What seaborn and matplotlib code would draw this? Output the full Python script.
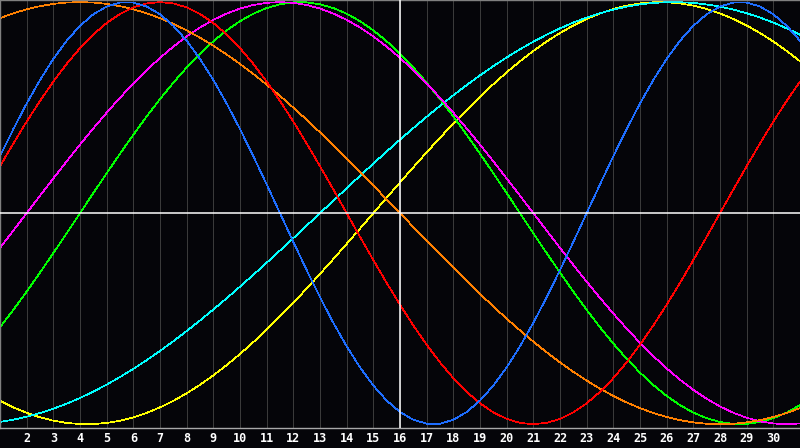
import matplotlib
matplotlib.use("Agg")
import matplotlib.pyplot as plt
import seaborn as sns
import pandas as pd

days = [1.0, 1.5, 2.0, 2.5, 3.0, 3.5, 4.0, 4.5, 5.0, 5.5, 6.0, 6.5, 7.0, 7.5, 8.0, 8.5,
        9.0, 9.5, 10.0, 10.5, 11.0, 11.5, 12.0, 12.5, 13.0, 13.5, 14.0, 14.5, 15.0, 15.5,
        16.0, 16.5, 17.0, 17.5, 18.0, 18.5, 19.0, 19.5, 20.0, 20.5, 21.0, 21.5, 22.0, 22.5,
        23.0, 23.5, 24.0, 24.5, 25.0, 25.5, 26.0, 26.5, 27.0, 27.5, 28.0, 28.5, 29.0, 29.5,
        30.0, 30.5, 31.0]
tick_days = list(range(2, 31))
tick_labels = [str(d) for d in tick_days]
today = 16

physical = [0.2698, 0.3984, 0.5196, 0.6311, 0.7308, 0.8170, 0.8879, 0.9423, 0.9791, 0.9977,
            0.9977, 0.9791, 0.9423, 0.8879, 0.8170, 0.7308, 0.6311, 0.5196, 0.3984, 0.2698, 0.1362,
            0.0,
            -0.1362, -0.2698, -0.3984, -0.5196, -0.6311, -0.7308, -0.8170, -0.8879, -0.9423, -0.9791, -0.9977,
            -0.9977, -0.9791, -0.9423, -0.8879, -0.8170, -0.7308, -0.6311, -0.5196, -0.3984, -0.2698, -0.1362,
            0.0,
            0.1362, 0.2698, 0.3984, 0.5196, 0.6311, 0.7308, 0.8170, 0.8879, 0.9423, 0.9791, 0.9977,
            0.9977, 0.9791, 0.9423, 0.8879, 0.8170]
emotional = [0.2225, 0.3303, 0.4339, 0.5320, 0.6235, 0.7071, 0.7818, 0.8467, 0.9010, 0.9439, 0.9749, 0.9937, 1.0,
             0.9937, 0.9749, 0.9439, 0.9010, 0.8467, 0.7818, 0.7071, 0.6235, 0.5320, 0.4339, 0.3303, 0.2225, 0.1120,
             0.0,
             -0.1120, -0.2225, -0.3303, -0.4339, -0.5320, -0.6235, -0.7071, -0.7818, -0.8467, -0.9010, -0.9439,
             -0.9749, -0.9937, -1.0, -0.9937, -0.9749, -0.9439, -0.9010, -0.8467, -0.7818, -0.7071, -0.6235,
             -0.5320, -0.4339, -0.3303, -0.2225, -0.1120,
             0.0,
             0.1120, 0.2225, 0.3303, 0.4339, 0.5320, 0.6235]
intellectual = [-0.5406, -0.4582, -0.3717, -0.2817, -0.1893, -0.0951,
                0.0,
                0.0951, 0.1893, 0.2817, 0.3717, 0.4582, 0.5406, 0.6182, 0.6901, 0.7557, 0.8146, 0.8660,
                0.9096, 0.9450, 0.9718, 0.9898, 0.9989, 0.9989, 0.9898, 0.9718, 0.9450, 0.9096, 0.8660,
                0.8146, 0.7557, 0.6901, 0.6182, 0.5406, 0.4582, 0.3717, 0.2817, 0.1893, 0.0951,
                0.0,
                -0.0951, -0.1893, -0.2817, -0.3717, -0.4582, -0.5406, -0.6182, -0.6901, -0.7557, -0.8146,
                -0.8660, -0.9096, -0.9450, -0.9718, -0.9898, -0.9989, -0.9989, -0.9898, -0.9718, -0.9450, -0.9096]
intuitive = [-0.1646, -0.0826,
             0.0,
             0.0826, 0.1646, 0.2455, 0.3247, 0.4017, 0.4759, 0.5469, 0.6142, 0.6773, 0.7357, 0.7891,
             0.8372, 0.8795, 0.9158, 0.9458, 0.9694, 0.9864, 0.9966, 1.0, 0.9966, 0.9864, 0.9694,
             0.9458, 0.9158, 0.8795, 0.8372, 0.7891, 0.7357, 0.6773, 0.6142, 0.5469, 0.4759, 0.4017,
             0.3247, 0.2455, 0.1646, 0.0826,
             0.0,
             -0.0826, -0.1646, -0.2455, -0.3247, -0.4017, -0.4759, -0.5469, -0.6142, -0.6773, -0.7357,
             -0.7891, -0.8372, -0.8795, -0.9158, -0.9458, -0.9694, -0.9864, -0.9966, -1.0, -0.9966]
aesthetic = [-0.8893, -0.9203, -0.9464, -0.9675, -0.9834, -0.9940, -0.9993, -0.9993, -0.9940, -0.9834,
             -0.9675, -0.9464, -0.9203, -0.8893, -0.8536, -0.8133, -0.7687, -0.7199, -0.6673, -0.6112,
             -0.5517, -0.4894, -0.4244, -0.3573, -0.2881, -0.2174, -0.1456, -0.0730,
             0.0,
             0.0730, 0.1456, 0.2174, 0.2881, 0.3573, 0.4244, 0.4894, 0.5517, 0.6112, 0.6673, 0.7199,
             0.7687, 0.8133, 0.8536, 0.8893, 0.9203, 0.9464, 0.9675, 0.9834, 0.9940, 0.9993, 0.9993,
             0.9940, 0.9834, 0.9675, 0.9464, 0.9203, 0.8893, 0.8536, 0.8133, 0.7687, 0.7199]
awareness = [0.9239, 0.9469, 0.9659, 0.9808, 0.9914, 0.9979, 1.0,
             0.9979, 0.9914, 0.9808, 0.9659, 0.9469, 0.9239, 0.8969, 0.8660, 0.8315, 0.7934, 0.7518,
             0.7071, 0.6593, 0.6088, 0.5556, 0.5, 0.4423, 0.3827, 0.3214, 0.2588, 0.1951, 0.1305, 0.0654,
             0.0,
             -0.0654, -0.1305, -0.1951, -0.2588, -0.3214, -0.3827, -0.4423, -0.5, -0.5556, -0.6088,
             -0.6593, -0.7071, -0.7518, -0.7934, -0.8315, -0.8660, -0.8969, -0.9239, -0.9469, -0.9659,
             -0.9808, -0.9914, -0.9979, -1.0,
             -0.9979, -0.9914, -0.9808, -0.9659, -0.9469, -0.9239]
spiritual = [-0.9890, -0.9786, -0.9646, -0.9473, -0.9267, -0.9028, -0.8757, -0.8456, -0.8125, -0.7765,
             -0.7379, -0.6966, -0.6529, -0.6068, -0.5586, -0.5085, -0.4566, -0.4031, -0.3482, -0.2921,
             -0.2349, -0.1769, -0.1183, -0.0592,
             0.0,
             0.0592, 0.1183, 0.1769, 0.2349, 0.2921, 0.3482, 0.4031, 0.4566, 0.5085, 0.5586, 0.6068,
             0.6529, 0.6966, 0.7379, 0.7765, 0.8125, 0.8456, 0.8757, 0.9028, 0.9267, 0.9473, 0.9646,
             0.9786, 0.9890, 0.9961, 0.9996, 0.9996, 0.9961, 0.9890, 0.9786, 0.9646, 0.9473, 0.9267,
             0.9028, 0.8757, 0.8456]

series = {
    "aesthetic": aesthetic,
    "spiritual": spiritual,
    "intellectual": intellectual,
    "intuitive": intuitive,
    "awareness": awareness,
    "emotional": emotional,
    "physical": physical,
}
palette = {
    "aesthetic": "#ffff00",
    "spiritual": "#00ffff",
    "intellectual": "#00ff00",
    "intuitive": "#ff00ff",
    "awareness": "#ff8000",
    "emotional": "#ff0000",
    "physical": "#1e6eff",
}

rows = []
for name, vals in series.items():
    for d, v in zip(days, vals):
        rows.append({"day": d, "value": v, "cycle": name})
df = pd.DataFrame(rows)

# ---- figure ----
bg = "#050509"
fig = plt.figure(figsize=(8, 4.48), dpi=100, facecolor=bg)
ax = fig.add_axes([0, 20 / 448, 1, 428 / 448])
ax.set_facecolor(bg)

for d in tick_days:
    ax.axvline(d, color="#3a3a3a", lw=0.5, zorder=1, antialiased=False)

sns.lineplot(data=df, x="day", y="value", hue="cycle", palette=palette,
             hue_order=list(series.keys()), legend=False, ax=ax,
             linewidth=0.5, zorder=2, estimator=None, sort=True, antialiased=False)

ax.axhline(0, color="white", lw=1.1, zorder=3)
ax.axvline(today, color="white", lw=1.1, zorder=3)

ax.set_xlim(1, 31)
ax.set_ylim(-1.018, 1.010)
ax.set_xticks(tick_days)
ax.set_xticklabels(tick_labels, fontweight="bold", family="DejaVu Sans Mono")
ax.set_yticks([])
ax.tick_params(axis="x", length=0, pad=3, colors="white", labelsize=8.5)
ax.set_xlabel("")
ax.set_ylabel("")

for side in ["left", "top"]:
    ax.spines[side].set_color("#808080")
    ax.spines[side].set_linewidth(1.0)
ax.spines["bottom"].set_color("#a8a8a8")
ax.spines["bottom"].set_linewidth(1.0)
ax.spines["right"].set_visible(False)

fig.savefig("out.png", dpi=100, facecolor=bg)
